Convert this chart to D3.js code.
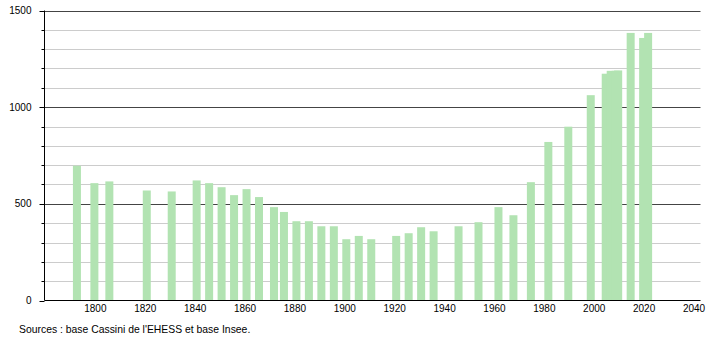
<!DOCTYPE html>
<html>
<head>
<meta charset="utf-8">
<script src="https://cdn.jsdelivr.net/npm/d3@7"></script>
<style>
  body { margin: 0; background: #fff; }
  text { font-family: "Liberation Sans", Arial, sans-serif; font-size: 10px; fill: #000; }
</style>
</head>
<body>
<div id="chart"></div>
<script>
// census years and population
var years = [1793, 1800, 1806, 1821, 1831, 1841, 1846, 1851, 1856, 1861, 1866, 1872, 1876,
  1881, 1886, 1891, 1896, 1901, 1906, 1911, 1921, 1926, 1931, 1936, 1946, 1954, 1962, 1968,
  1975, 1982, 1990, 1999, 2005, 2007, 2009, 2010, 2015, 2020, 2022];
var population = [697, 607, 616, 569, 564, 621, 607, 586, 545, 576, 535, 483, 458,
  410, 410, 384, 384, 317, 334, 317, 334, 348, 379, 358, 384, 405, 483, 441,
  612, 820, 899, 1062, 1173, 1188, 1188, 1190, 1384, 1358, 1384];
var xTicks = [1800, 1820, 1840, 1860, 1880, 1900, 1920, 1940, 1960, 1980, 2000, 2020, 2040];
var yTicks = [0, 500, 1000, 1500];
var source = "Sources : base Cassini de l'EHESS et base Insee.";

var width = 710, height = 340;

var svg = d3.select("#chart").append("svg")
    .attr("width", width)
    .attr("height", height);

// Scales
var x = d3.scaleLinear().domain([1780, 2043]).range([44.5, 700.5]);
var y = d3.scaleLinear().domain([0, 1500]).range([300.5, 10.5]);

var barWidth = 8;

// minor gridlines every 100
var minor = d3.range(100, 1500, 100).filter(function(d) { return d % 500 != 0; });
svg.append("g").selectAll("line")
    .data(minor)
    .enter().append("line")
    .attr("x1", x.range()[0]).attr("x2", x.range()[1])
    .attr("y1", function(d) { return Math.round(y(d)) + 0.5; })
    .attr("y2", function(d) { return Math.round(y(d)) + 0.5; })
    .attr("stroke", "#cccccc");

// major gridlines
svg.append("g").selectAll("line")
    .data(yTicks.filter(function(d) { return d > 0; }))
    .enter().append("line")
    .attr("x1", x.range()[0]).attr("x2", x.range()[1])
    .attr("y1", function(d) { return Math.round(y(d)) + 0.5; })
    .attr("y2", function(d) { return Math.round(y(d)) + 0.5; })
    .attr("stroke", "#444444");

// Bars
svg.append("g").selectAll("rect")
    .data(years)
    .enter().append("rect")
    .attr("x", function(d) { return x(d) - barWidth / 2; })
    .attr("y", function(d, i) { return y(population[i]); })
    .attr("width", barWidth)
    .attr("height", function(d, i) { return y(0) - y(population[i]); })
    .attr("fill", "#b2e3b2");

// Y axis: minor ticks + labels
var yAxis = svg.append("g").attr("transform", "translate(44.5,0)");
yAxis.selectAll(".minor")
    .data(minor)
    .enter().append("line")
    .attr("x1", -3).attr("x2", 0)
    .attr("y1", function(d) { return Math.round(y(d)) + 0.5; })
    .attr("y2", function(d) { return Math.round(y(d)) + 0.5; })
    .attr("stroke", "#000");
yAxis.selectAll(".major")
    .data(yTicks)
    .enter().append("line")
    .attr("x1", -5).attr("x2", 0)
    .attr("y1", function(d) { return Math.round(y(d)) + 0.5; })
    .attr("y2", function(d) { return Math.round(y(d)) + 0.5; })
    .attr("stroke", "#000");
yAxis.append("line")
    .attr("x1", 0).attr("x2", 0)
    .attr("y1", y(1500)).attr("y2", y(0))
    .attr("stroke", "#000");
yAxis.selectAll("text")
    .data(yTicks)
    .enter().append("text")
    .attr("x", -13)
    .attr("y", function(d) { return y(d) + 3.5; })
    .attr("text-anchor", "end")
    .text(function(d) { return d; });

// X axis
svg.append("line")
    .attr("x1", x.range()[0]).attr("x2", x.range()[1])
    .attr("y1", y(0)).attr("y2", y(0))
    .attr("stroke", "#000");
svg.append("g").selectAll("text")
    .data(xTicks)
    .enter().append("text")
    .attr("x", function(d) { return x(d) + 1; })
    .attr("y", 312)
    .attr("text-anchor", "middle")
    .text(function(d) { return d; });

// Source note
svg.append("text")
    .attr("x", 19)
    .attr("y", 333)
    .style("font-size", "10.4px")
    .text(source);
</script>
</body>
</html>
